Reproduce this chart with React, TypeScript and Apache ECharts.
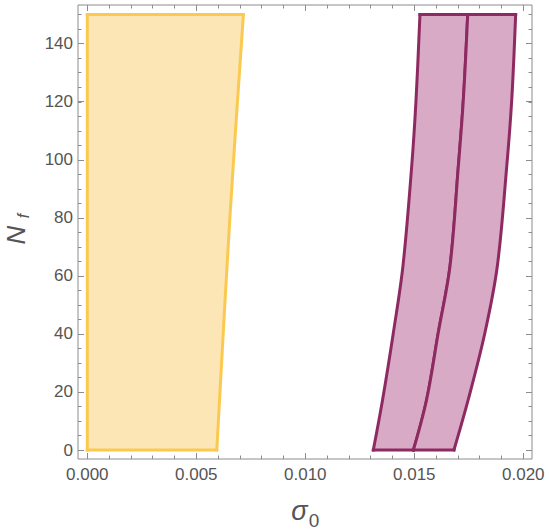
import React, { useEffect, useRef } from "react";
import * as echarts from "echarts";

// ---- data ----
const xTickValues = [0, 0.005, 0.01, 0.015, 0.02];
const yTickValues = [0, 20, 40, 60, 80, 100, 120, 140];

// yellow region: left edge at sigma = 0, right edge below
const yellowN = [0, 80, 150];
const yellowLeft = [0, 0, 0];
const yellowRight = [0.00594, 0.00654, 0.00716];

// purple bands
const purpleN = [0, 17.5, 40.4, 63.4, 97.6, 120.6, 150];
const purpleLeft = [0.01312, 0.01355, 0.01404, 0.01448, 0.01488, 0.01508, 0.01526];
const purpleMid = [0.01496, 0.01557, 0.0161, 0.01664, 0.01702, 0.01725, 0.01745];
const purpleRight = [0.01682, 0.01748, 0.01824, 0.01881, 0.01924, 0.01947, 0.01965];

// ---- styles ----
const YELLOW_FILL = "#fde6b6";
const YELLOW_STROKE = "#fbc94f";
const PURPLE_FILL = "#d9aac6";
const PURPLE_STROKE = "#8e2a62";
const FRAME = "#8c8c8c";
const TEXT = "#555555";
const FONT = "'Liberation Sans', Arial, sans-serif";
const LW = 3;

const XMIN = -0.000427;
const XMAX = 0.0204;
const YMIN = -3.1;
const YMAX = 153.3;

function edge(xs: number[], ns: number[]): number[][] {
  return ns.map((n, i) => [xs[i], n]);
}

const bands = [
  { left: edge(yellowLeft, yellowN), right: edge(yellowRight, yellowN), fill: YELLOW_FILL, stroke: YELLOW_STROKE },
  { left: edge(purpleLeft, purpleN), right: edge(purpleMid, purpleN), fill: PURPLE_FILL, stroke: PURPLE_STROKE },
  { left: edge(purpleMid, purpleN), right: edge(purpleRight, purpleN), fill: PURPLE_FILL, stroke: PURPLE_STROKE },
];

export default function App() {
  const ref = useRef<HTMLDivElement>(null);
  useEffect(() => {
    if (!ref.current) return;
    const chart = echarts.init(ref.current, undefined, { renderer: "svg" });
    const tickStyle = { color: FRAME, width: 1 };
    const option: any = {
      animation: false,
      backgroundColor: "#ffffff",
      grid: [
        { left: 78, right: 18, top: 5, bottom: 73, show: true, borderColor: FRAME, borderWidth: 1, backgroundColor: "transparent" },
        { left: 87.3, right: 26.7, top: 5, bottom: 73 },
        { left: 78, right: 18, top: 43.7, bottom: 82 },
        { left: 78, right: 18, top: 14.7, bottom: 82 },
      ],
      xAxis: [
        { type: "value", gridIndex: 0, min: XMIN, max: XMAX, show: false },
        {
          type: "value", gridIndex: 1, position: "bottom", min: xTickValues[0], max: xTickValues[xTickValues.length - 1], interval: 0.005,
          axisLine: { show: false }, splitLine: { show: false },
          axisTick: { show: true, inside: true, length: 6, lineStyle: tickStyle },
          minorTick: { show: true, splitNumber: 5, length: 3.5, lineStyle: tickStyle },
          axisLabel: { show: true, margin: 7, color: TEXT, fontSize: 17, fontFamily: FONT, formatter: (v: number) => v.toFixed(3) },
        },
        {
          type: "value", gridIndex: 1, position: "top", min: xTickValues[0], max: xTickValues[xTickValues.length - 1], interval: 0.005,
          axisLine: { show: false }, splitLine: { show: false },
          axisTick: { show: true, inside: true, length: 6, lineStyle: tickStyle },
          minorTick: { show: true, splitNumber: 5, length: 3.5, lineStyle: tickStyle },
          axisLabel: { show: false },
        },
        { type: "value", gridIndex: 2, min: 0, max: 1, show: false },
        { type: "value", gridIndex: 3, min: 0, max: 1, show: false },
      ],
      yAxis: [
        { type: "value", gridIndex: 0, min: YMIN, max: YMAX, show: false },
        { type: "value", gridIndex: 1, min: 0, max: 1, show: false },
        {
          type: "value", gridIndex: 2, position: "left", min: yTickValues[0], max: yTickValues[yTickValues.length - 1], interval: 20,
          axisLine: { show: false }, splitLine: { show: false },
          axisTick: { show: true, inside: true, length: 6, lineStyle: tickStyle },
          axisLabel: { show: true, margin: 5, color: TEXT, fontSize: 17, fontFamily: FONT },
        },
        {
          type: "value", gridIndex: 2, position: "right", min: yTickValues[0], max: yTickValues[yTickValues.length - 1], interval: 20,
          axisLine: { show: false }, splitLine: { show: false },
          axisTick: { show: true, inside: true, length: 6, lineStyle: tickStyle },
          axisLabel: { show: false },
        },
        {
          type: "value", gridIndex: 3, position: "left", min: 0, max: 150, interval: 5,
          axisLine: { show: false }, splitLine: { show: false },
          axisTick: { show: true, inside: true, length: 3.5, lineStyle: tickStyle },
          axisLabel: { show: false },
        },
        {
          type: "value", gridIndex: 3, position: "right", min: 0, max: 150, interval: 5,
          axisLine: { show: false }, splitLine: { show: false },
          axisTick: { show: true, inside: true, length: 3.5, lineStyle: tickStyle },
          axisLabel: { show: false },
        },
      ],
      series: [
        {
          type: "custom",
          xAxisIndex: 0,
          yAxisIndex: 0,
          clip: false,
          data: bands.map((b, i) => [b.left[0][0], b.left[0][1], i]),
          renderItem: (params: any, api: any) => {
            const b = bands[params.dataIndex];
            const L = b.left.map((p) => api.coord(p));
            const R = b.right.map((p) => api.coord(p));
            const fillPts = L.concat(R.slice().reverse());
            const strokeStyle = { fill: "none", stroke: b.stroke, lineWidth: LW, lineCap: "square", lineJoin: "miter" };
            return {
              type: "group",
              children: [
                { type: "polygon", shape: { points: fillPts }, style: { fill: b.fill, stroke: "none" } },
                { type: "polyline", shape: { points: L, smooth: 0.35 }, style: strokeStyle },
                { type: "polyline", shape: { points: R, smooth: 0.35 }, style: strokeStyle },
                { type: "line", shape: { x1: L[0][0], y1: L[0][1], x2: R[0][0], y2: R[0][1] }, style: strokeStyle },
                {
                  type: "line",
                  shape: { x1: L[L.length - 1][0], y1: L[L.length - 1][1], x2: R[R.length - 1][0], y2: R[R.length - 1][1] },
                  style: strokeStyle,
                },
              ],
            };
          },
        },
      ],
      graphic: [
        {
          type: "text", x: 16, y: 235, rotation: Math.PI / 2,
          style: { text: "N", fontSize: 26, fontStyle: "italic", fontFamily: FONT, fill: TEXT, align: "center", verticalAlign: "middle" },
        },
        {
          type: "text", x: 23, y: 216, rotation: Math.PI / 2,
          style: { text: "f", fontSize: 16, fontStyle: "italic", fontFamily: FONT, fill: TEXT, align: "center", verticalAlign: "middle" },
        },
        {
          type: "text", x: 299.5, y: 511,
          style: { text: "σ", fontSize: 27, fontStyle: "italic", fontFamily: FONT, fill: TEXT, align: "center", verticalAlign: "middle" },
        },
        {
          type: "text", x: 314, y: 520,
          style: { text: "0", fontSize: 19, fontFamily: FONT, fill: TEXT, align: "center", verticalAlign: "middle" },
        },
      ],
    };
    chart.setOption(option);
    return () => chart.dispose();
  }, []);
  return <div ref={ref} style={{ position: "fixed", left: 0, top: 0, width: 550, height: 532 }} />;
}
